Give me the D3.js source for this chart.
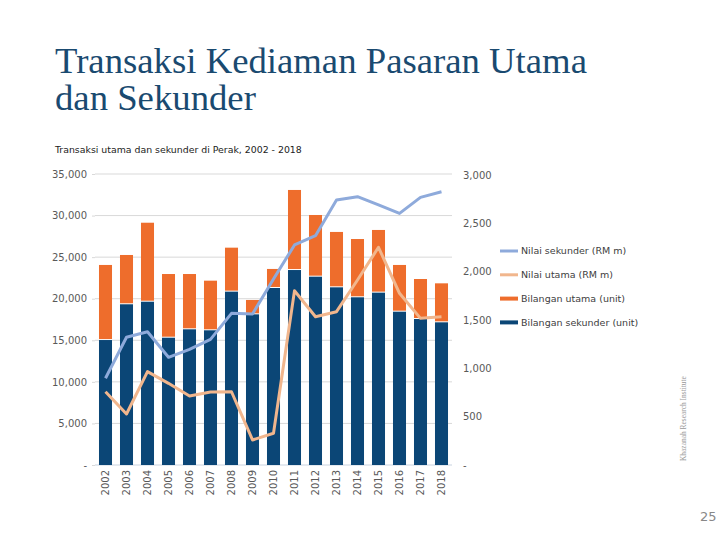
<!DOCTYPE html>
<html>
<head>
<meta charset="utf-8">
<script src="https://cdn.jsdelivr.net/npm/d3@7"></script>
<style>
  html, body { margin: 0; padding: 0; background: #fff; }
  svg { display: block; }
</style>
</head>
<body>
<svg id="chart" width="720" height="540"></svg>
<script>
// data
const years = ["2002","2003","2004","2005","2006","2007","2008","2009","2010",
  "2011","2012","2013","2014","2015","2016","2017","2018"];
// unit counts (left axis)
const bilSekunder = [15030, 19330, 19640, 15310, 16320, 16200, 20850, 18120, 21290,
  23450, 22650, 21370, 20170, 20730, 18440, 17560, 17160];
const bilTotal = [24060, 25260, 29140, 22970, 22970, 22170, 26140, 19850, 23580,
  33080, 30070, 28030, 27180, 28270, 24060, 22370, 21850];
const bilUtama = bilTotal.map((t, i) => t - bilSekunder[i]);
// values RM m (right axis)
const nilaiSekunder = [897, 1321, 1379, 1114, 1197, 1300, 1569, 1562, 1925,
  2276, 2372, 2741, 2776, 2690, 2603, 2769, 2827];
const nilaiUtama = [758, 528, 966, 845, 714, 755, 758, 259, 328,
  1803, 1534, 1586, 1914, 2252, 1776, 1517, 1534];

const leftTicks = [0, 5000, 10000, 15000, 20000, 25000, 30000, 35000];
const rightTicks = [0, 500, 1000, 1500, 2000, 2500, 3000];

const svg = d3.select("#chart");
const fmt = d3.format(",");
const tickFmt = v => v === 0 ? "-" : fmt(v);
const axisGrey = "#595959";

// fit a text element to a target width
function fitWidth(sel, target) {
  const node = sel.node();
  const fs = parseFloat(sel.attr("font-size"));
  const w = node.getComputedTextLength();
  sel.attr("font-size", (fs * target / w).toFixed(2));
}

// title
const t1 = svg.append("text").attr("x", 55).attr("y", 73)
  .attr("font-family", "Liberation Serif").attr("font-size", 36)
  .attr("fill", "#1a4a70").text("Transaksi Kediaman Pasaran Utama");
fitWidth(t1, 532);
svg.append("text").attr("x", 55).attr("y", 110)
  .attr("font-family", "Liberation Serif").attr("font-size", t1.attr("font-size"))
  .attr("fill", "#1a4a70").text("dan Sekunder");

const st = svg.append("text").attr("x", 55).attr("y", 153)
  .attr("font-family", "DejaVu Sans").attr("font-size", 10)
  .attr("fill", "#222").text("Transaksi utama dan sekunder di Perak, 2002 - 2018");
fitWidth(st, 247);

// scales
const x = d3.scaleBand().domain(years).range([95, 452])
  .paddingInner(0.38).paddingOuter(0.19);
const yL = d3.scaleLinear().domain([0, 35000]).range([465, 174]);
const yR = d3.scaleLinear().domain([0, 3000]).range([465, 175]);

// gridlines
svg.append("g").selectAll("line").data(leftTicks).join("line")
  .attr("x1", 95).attr("x2", 452)
  .attr("y1", d => yL(d)).attr("y2", d => yL(d))
  .attr("stroke", d => d === 0 ? "#c9d3e0" : "#d9d9d9").attr("stroke-width", 1);

// left axis
const axL = svg.append("g").attr("transform", "translate(95,0)")
  .call(d3.axisLeft(yL).tickValues(leftTicks).tickFormat(tickFmt).tickSize(3).tickPadding(5));
axL.select(".domain").remove();
axL.selectAll("line").attr("stroke", "#d9d9d9");
axL.selectAll("text").attr("font-family", "DejaVu Sans").attr("font-size", 10).attr("fill", axisGrey);

// right axis
const axR = svg.append("g").attr("transform", "translate(452,0)")
  .call(d3.axisRight(yR).tickValues(rightTicks).tickFormat(tickFmt).tickSize(0).tickPadding(11));
axR.select(".domain").remove();
axR.selectAll("text").attr("font-family", "DejaVu Sans").attr("font-size", 10).attr("fill", axisGrey);

// x axis labels
svg.append("g").selectAll("text").data(years).join("text")
  .attr("transform", d => `translate(${x(d) + x.bandwidth() / 2 + 3.5},470) rotate(-90)`)
  .attr("text-anchor", "end")
  .attr("font-family", "DejaVu Sans").attr("font-size", 10).attr("fill", axisGrey)
  .text(d => d);

// bars
const bars = svg.append("g");
bars.selectAll("rect.sek").data(years).join("rect").attr("class", "sek")
  .attr("x", d => x(d)).attr("width", x.bandwidth())
  .attr("y", (d, i) => yL(bilSekunder[i]))
  .attr("height", (d, i) => yL(0) - yL(bilSekunder[i]))
  .attr("fill", "#0b4676");
bars.selectAll("rect.uta").data(years).join("rect").attr("class", "uta")
  .attr("x", d => x(d)).attr("width", x.bandwidth())
  .attr("y", (d, i) => yL(bilTotal[i]))
  .attr("height", (d, i) => yL(bilSekunder[i]) - yL(bilTotal[i]) - 1)
  .attr("fill", "#ee6d2c");

// lines
const line = d3.line().x((d, i) => x(years[i]) + x.bandwidth() / 2).y(d => yR(d));
svg.append("path").datum(nilaiUtama).attr("d", line)
  .attr("fill", "none").attr("stroke", "#f1b68d").attr("stroke-width", 3)
  .attr("stroke-linejoin", "round");
svg.append("path").datum(nilaiSekunder).attr("d", line)
  .attr("fill", "none").attr("stroke", "#8eaadb").attr("stroke-width", 3)
  .attr("stroke-linejoin", "round");

// legend
const legendItems = [
  { label: "Nilai sekunder (RM m)", color: "#8eaadb", w: 3 },
  { label: "Nilai utama (RM m)", color: "#f1b68d", w: 3 },
  { label: "Bilangan utama (unit)", color: "#ee6d2c", w: 4 },
  { label: "Bilangan sekunder (unit)", color: "#0b4676", w: 4 }
];
const lg = svg.append("g").selectAll("g").data(legendItems).join("g")
  .attr("transform", (d, i) => `translate(500,${251 + i * 23.8})`);
lg.append("line").attr("x1", 0).attr("x2", 18)
  .attr("stroke", d => d.color).attr("stroke-width", d => d.w);
lg.append("text").attr("x", 21).attr("dy", "0.35em")
  .attr("font-family", "DejaVu Sans").attr("font-size", 9.5).attr("fill", "#404040")
  .text(d => d.label);

// side credit and page number
const kri = svg.append("text").attr("transform", "translate(686,461) rotate(-90)")
  .attr("font-family", "Liberation Serif").attr("font-size", 8.5).attr("fill", "#999")
  .text("Khazanah Research Institute");
fitWidth(kri, 85);
svg.append("text").attr("x", 700).attr("y", 521)
  .attr("font-family", "DejaVu Sans").attr("font-size", 13).attr("fill", "#888")
  .text("25");
</script>
</body>
</html>
